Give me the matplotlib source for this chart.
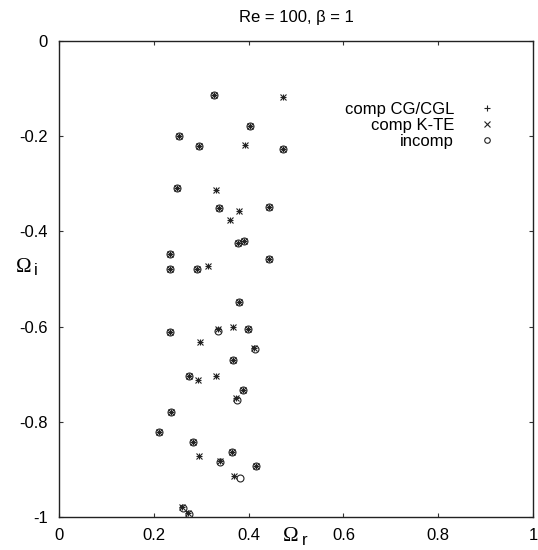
import matplotlib
matplotlib.use('Agg')
import matplotlib.pyplot as plt

plt.rcParams['font.family'] = ['Liberation Sans', 'DejaVu Sans']

# eigenvalues (Omega_r, Omega_i)
cg_r = [0.326, 0.473, 0.404, 0.253, 0.296, 0.392, 0.472, 0.248, 0.331, 0.337,
        0.379, 0.443, 0.360, 0.377, 0.390, 0.234, 0.444, 0.234, 0.291, 0.315,
        0.380, 0.234, 0.335, 0.368, 0.399, 0.297, 0.411, 0.367, 0.274, 0.293,
        0.332, 0.389, 0.374, 0.237, 0.212, 0.283, 0.295, 0.365, 0.339, 0.415,
        0.369, 0.260, 0.272]
cg_i = [-0.114, -0.118, -0.179, -0.200, -0.220, -0.218, -0.227, -0.309, -0.314, -0.351,
        -0.357, -0.349, -0.375, -0.424, -0.421, -0.447, -0.457, -0.478, -0.478, -0.472,
        -0.548, -0.611, -0.605, -0.600, -0.604, -0.632, -0.645, -0.671, -0.704, -0.712,
        -0.704, -0.734, -0.751, -0.780, -0.821, -0.842, -0.872, -0.864, -0.882, -0.893,
        -0.913, -0.980, -0.992]
kte_r = list(cg_r)
kte_i = list(cg_i)
inc_r = [0.326, 0.404, 0.253, 0.296, 0.472, 0.248, 0.337, 0.443, 0.377, 0.390,
         0.234, 0.444, 0.234, 0.291, 0.380, 0.234, 0.336, 0.399, 0.413, 0.367,
         0.274, 0.389, 0.376, 0.237, 0.212, 0.283, 0.365, 0.340, 0.415, 0.381,
         0.262, 0.274]
inc_i = [-0.114, -0.179, -0.200, -0.220, -0.227, -0.309, -0.351, -0.349, -0.424, -0.421,
         -0.447, -0.457, -0.478, -0.478, -0.548, -0.611, -0.610, -0.604, -0.648, -0.671,
         -0.704, -0.734, -0.754, -0.780, -0.821, -0.842, -0.864, -0.884, -0.893, -0.918,
         -0.981, -0.993]

fig = plt.figure(figsize=(5.38, 5.50), dpi=100)
ax = fig.add_axes([59/538, 1 - 517/550, 474/538, 476/550])

mk = dict(linestyle='none', color='#222222', markeredgewidth=0.8, markersize=5)
ax.plot(cg_r, cg_i, marker='+', label='comp CG/CGL', **mk)
ax.plot(kte_r, kte_i, marker='x', label='comp K-TE', **mk)
ax.plot(inc_r, inc_i, marker='o', markerfacecolor='none', label='incomp', **mk)

ax.set_xlim(0, 1)
ax.set_ylim(-1, 0)
ax.set_xticks([0, 0.2, 0.4, 0.6, 0.8, 1])
ax.set_xticklabels(['0', '0.2', '0.4', '0.6', '0.8', '1'])
ax.set_yticks([0, -0.2, -0.4, -0.6, -0.8, -1])
ax.set_yticklabels(['0', '-0.2', '-0.4', '-0.6', '-0.8', '-1'])
ax.tick_params(direction='in', length=3, width=0.8, top=True, right=True,
               labelsize=12, pad=8, color='#333333')
for s in ax.spines.values():
    s.set_linewidth(1.0)
    s.set_color('#222222')

ax.set_title('Re = 100, \u03b2 = 1', fontsize=12, pad=14)

# axis labels, gnuplot style: Omega with a lowered index
omega = dict(family=['Liberation Serif', 'DejaVu Serif'], fontsize=15)
ax.text(0.505, -0.042, '\u03a9', transform=ax.transAxes, ha='right', va='center', **omega)
ax.text(0.513, -0.049, 'r', transform=ax.transAxes, ha='left', va='center', fontsize=12)
ax.text(-0.058, 0.525, '\u03a9', transform=ax.transAxes, ha='right', va='center', **omega)
ax.text(-0.054, 0.517, 'i', transform=ax.transAxes, ha='left', va='center', fontsize=12)

ax.legend(loc='upper right', bbox_to_anchor=(0.939, 0.872), frameon=False,
          markerfirst=False, fontsize=12, labelspacing=0.05, handletextpad=1.0,
          borderpad=0, borderaxespad=0, handlelength=2.0, markerscale=0.8)

fig.savefig('out.png', dpi=100)
